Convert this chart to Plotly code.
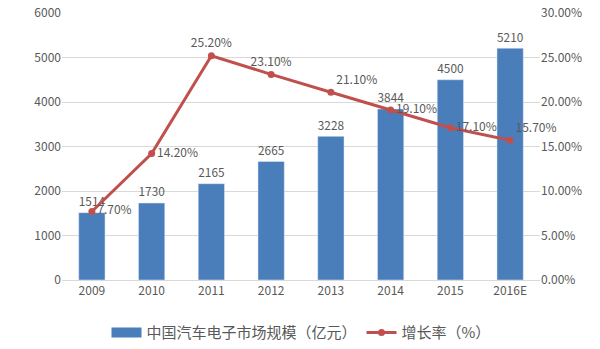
import plotly.graph_objects as go

years = ["2009", "2010", "2011", "2012", "2013", "2014", "2015", "2016E"]
market = [1514, 1730, 2165, 2665, 3228, 3844, 4500, 5210]
growth = [0.077, 0.142, 0.252, 0.231, 0.211, 0.191, 0.171, 0.157]
growth_pos = ["middle right", "middle right", "top center", "top center",
              "top right", "middle right", "middle right", "top right"]

font_family = "Noto Sans CJK SC, Noto Sans, sans-serif"
grey = "#595959"
blue = "#4A7EBB"
red = "#C0504D"

fig = go.Figure()
fig.add_trace(go.Bar(
    x=years, y=market, name="中国汽车电子市场规模（亿元）",
    marker=dict(color=blue), showlegend=False,
    text=[str(v) for v in market], textposition="outside",
    textfont=dict(color=grey, size=13), cliponaxis=False,
))
# legend-only entry giving the wide rectangular swatch of the bar series
fig.add_trace(go.Scatter(
    x=[None], y=[None], mode="lines", name="中国汽车电子市场规模（亿元）",
    line=dict(color=blue, width=12),
))
fig.add_trace(go.Scatter(
    x=years, y=growth, name="增长率（%）", yaxis="y2",
    mode="lines+markers+text",
    line=dict(color=red, width=3),
    marker=dict(color=red, size=7),
    text=[f"{v*100:.2f}%" for v in growth], textposition=growth_pos,
    textfont=dict(color=grey, size=12), cliponaxis=False,
))

fig.update_layout(
    width=600, height=349,
    margin=dict(l=62, r=60, t=13, b=69, autoexpand=False),
    paper_bgcolor="white", plot_bgcolor="white",
    font=dict(family=font_family, color=grey, size=12),
    bargap=0.56,
    showlegend=True,
    legend=dict(orientation="h", x=0.5, xanchor="center", y=-0.198, yanchor="middle",
                font=dict(size=15, color=grey), itemwidth=30, tracegroupgap=0),
    xaxis=dict(showgrid=False, showline=True, linecolor="#D9D9D9", ticks="",
               tickfont=dict(size=12, color=grey)),
    yaxis=dict(range=[0, 6000], dtick=1000, showgrid=True, gridcolor="#D9D9D9",
               zeroline=False, tickfont=dict(size=12, color=grey), ticks=""),
    yaxis2=dict(range=[0, 0.30], dtick=0.05, tickformat=".2%", overlaying="y",
                side="right", showgrid=False, zeroline=False,
                tickfont=dict(size=12, color=grey)),
)

fig.write_html("out.html")
